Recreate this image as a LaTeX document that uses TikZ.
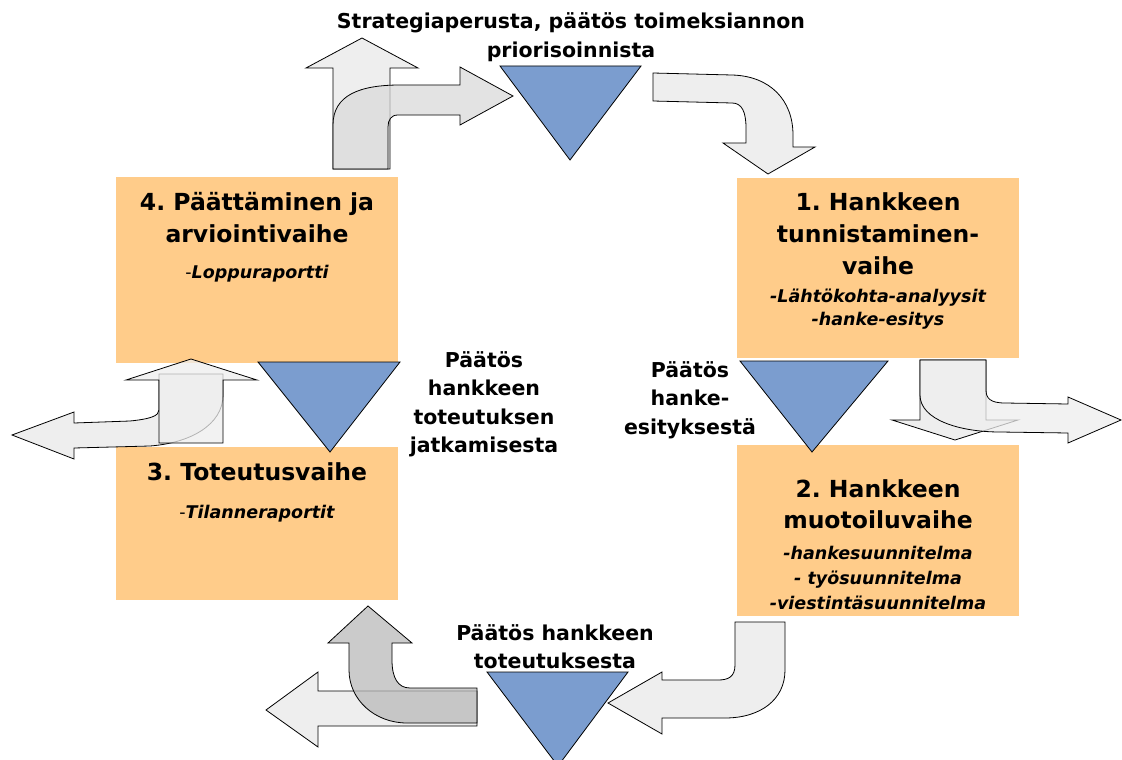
\documentclass[tikz,border=0pt]{standalone}
\usepackage{fontspec}
\setmainfont{DejaVu Sans}
\usetikzlibrary{positioning}
\definecolor{phasefill}{RGB}{255,204,138}
\definecolor{gatefill}{RGB}{123,157,207}
\definecolor{arrowlight}{RGB}{238,238,238}
\definecolor{arrowmid}{RGB}{218,218,218}
\definecolor{arrowdark}{RGB}{185,185,185}
\frenchspacing

\begin{document}
\begin{tikzpicture}[x=1pt,y=-1pt,
    phase/.style={fill=phasefill, inner sep=0},
    gate/.style={fill=gatefill, draw=black, line width=0.8pt},
    flow/.style={fill=arrowlight, draw=black, line width=0.8pt},
    over/.style={fill=arrowmid, fill opacity=0.75, draw=black, line width=0.8pt},
    title/.style={font=\bfseries\fontsize{23.5}{32}\selectfont, align=center, anchor=base, inner sep=0},
    sub/.style={font=\bfseries\itshape\fontsize{17.5}{23}\selectfont, align=center, anchor=base, inner sep=0},
    gatelabel/.style={font=\bfseries\fontsize{20.5}{28.5}\selectfont, align=center, anchor=base, inner sep=0}]
    \useasboundingbox (0,0) rectangle (1122,760);

    \node[phase, minimum width=282pt, minimum height=186pt] at (257,270) (p4) {};
    \node[phase, minimum width=282pt, minimum height=180pt] at (878,268) (p1) {};
    \node[phase, minimum width=282pt, minimum height=171pt] at (878,530.5) (p2) {};
    \node[phase, minimum width=282pt, minimum height=153pt] at (257,523.5) (p3) {};

    \draw[gate] (500,66) -- (641,66) -- (570,160) -- cycle;
    \draw[gate] (258,362) -- (400,362) -- (330,452) -- cycle;
    \draw[gate] (740,361) -- (888,361) -- (812,452) -- cycle;
    \draw[gate] (487,672) -- (628,672) -- (558,766) -- cycle;

    \draw[flow] (333,169) -- (333,68) -- (306,68) -- (362,38) -- (418,68) -- (390,68) -- (390,169) -- cycle;
    \draw[over] (333,169) -- (333,125) .. controls (333,95) and (360,85) .. (400,85) -- (460,85)
        -- (460,67) -- (513,96) -- (460,125) -- (460,115) -- (398,115)
        .. controls (391,115) and (388,120) .. (388,127) -- (388,169) -- cycle;

    \draw[flow] (653,73) -- (732,75) .. controls (770,76) and (793,100) .. (793,135) -- (793,147)
        -- (815,147) -- (768,174) -- (723,143) -- (746,143) -- (746,128)
        .. controls (746,112) and (742,103) .. (732,103) -- (653,101) -- cycle;

    \draw[flow] (920,360) -- (920,420) -- (892,420) -- (955,440) -- (1018,420) -- (986,420) -- (986,360) -- cycle;
    \draw[over, fill=arrowlight] (920,360) -- (920,395) .. controls (920,420) and (960,432) .. (1000,432)
        -- (1068,433) -- (1068,443) -- (1121,420) -- (1068,397) -- (1068,404) -- (1005,403)
        .. controls (990,403) and (986,398) .. (986,390) -- (986,360) -- cycle;

    \draw[flow] (223,374) -- (223,395) .. controls (223,425) and (190,443) .. (150,446) -- (74,448)
        -- (74,459) -- (12,435) -- (74,412) -- (74,423) -- (130,421)
        .. controls (150,419) and (159,416) .. (159,410) -- (159,374) -- cycle;
    \draw[over, fill=arrowlight] (159,443) -- (159,380) -- (126,380) -- (191,359) -- (257,380) -- (223,380) -- (223,443) -- cycle;

    \draw[flow] (477,691) -- (318,691) -- (318,672) -- (266,710) -- (318,747) -- (318,726) -- (477,726) -- cycle;
    \draw[over, fill=arrowdark] (477,688) -- (410,688) .. controls (398,688) and (392,678) .. (392,660)
        -- (392,643) -- (412,643) -- (368,606) -- (328,643) -- (349,643) -- (349,670)
        .. controls (349,700) and (375,723) .. (407,723) -- (477,723) -- cycle;

    \draw[flow] (735,622) -- (735,665) .. controls (735,677) and (728,680) .. (718,680) -- (662,680)
        -- (662,672) -- (608,703) -- (662,734) -- (662,718) -- (725,718)
        .. controls (760,718) and (785,700) .. (785,670) -- (785,622) -- cycle;

    \node[title] at (257,242) (t4) {4. Päättäminen ja\\arviointivaihe};
    \node[sub] at (257,278) (s4) {{\mdseries\upshape -}Loppuraportti};
    \node[title] at (878,274) (t1) {1. Hankkeen\\tunnistaminen-\\vaihe};
    \node[sub] at (878,325) (s1) {-Lähtökohta-analyysit\\-hanke-esitys};
    \node[title, font=\bfseries\fontsize{23.5}{31}\selectfont] at (878,528) (t2) {2. Hankkeen\\muotoiluvaihe};
    \node[sub, font=\bfseries\itshape\fontsize{17.5}{25}\selectfont] at (878,609) (s2) {-hankesuunnitelma\\- työsuunnitelma\\-viestintäsuunnitelma};
    \node[title] at (257,480) (t3) {3. Toteutusvaihe};
    \node[sub] at (257,518) (s3) {{\mdseries\upshape -}Tilanneraportit};

    \node[gatelabel] at (571,57.5) (g0) {Strategiaperusta, päätös toimeksiannon\\priorisoinnista};
    \node[gatelabel] at (484,452.5) (g3) {Päätös\\hankkeen\\toteutuksen\\jatkamisesta};
    \node[gatelabel] at (690,434) (g1) {Päätös\\hanke-\\esityksestä};
    \node[gatelabel] at (555,668.5) (g2) {Päätös hankkeen\\toteutuksesta};
\end{tikzpicture}
\end{document}
